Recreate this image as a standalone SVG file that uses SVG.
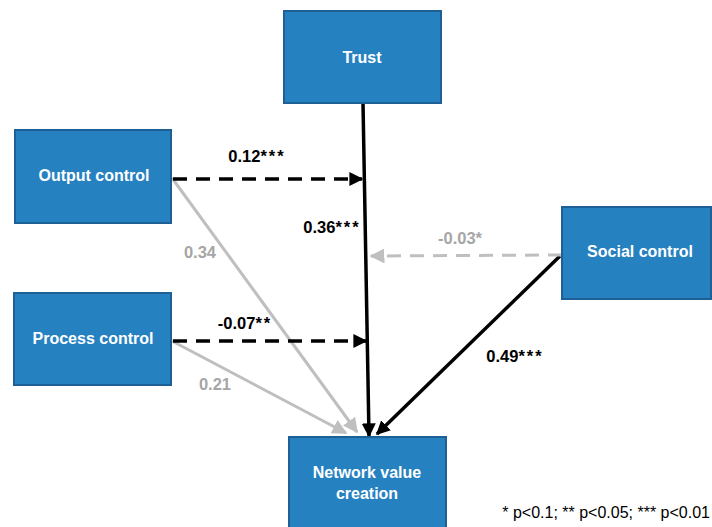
<svg xmlns="http://www.w3.org/2000/svg" width="712" height="527" viewBox="0 0 712 527">
<style>
.box{fill:#2681C1;stroke:#1E6096;stroke-width:2}
.nt{font-family:"Liberation Sans",Arial,sans-serif;font-weight:bold;font-size:16px;fill:#ffffff;text-anchor:middle}
.lb{font-family:"Liberation Sans",Arial,sans-serif;font-weight:bold;font-size:16.5px;text-anchor:middle}
.st{letter-spacing:2px}
.blk{fill:#000000}
.gry{fill:#A6A6A6}
.foot{font-family:"Liberation Sans",Arial,sans-serif;font-size:16px;fill:#000;text-anchor:end}
.cb{stroke:#000;stroke-width:3.5;fill:none}
.cg{stroke:#BFBFBF;stroke-width:3;fill:none}
.dash{stroke-dasharray:14,9}
</style>
<defs>
<marker id="ab" viewBox="0 0 10 10" refX="9" refY="5" markerWidth="4" markerHeight="4" orient="auto" markerUnits="strokeWidth"><path d="M0,0 L10,5 L0,10 z" fill="#000"/></marker>
<marker id="ag" viewBox="0 0 10 10" refX="9" refY="5" markerWidth="5" markerHeight="5" orient="auto" markerUnits="strokeWidth"><path d="M0,0 L10,5 L0,10 z" fill="#BFBFBF"/></marker>
</defs>
<rect width="712" height="527" fill="#ffffff"/>
<g id="connectors">
<line class="cg" x1="172" y1="178" x2="357" y2="432" marker-end="url(#ag)"/>
<line class="cg" x1="172" y1="341" x2="346" y2="433" marker-end="url(#ag)"/>
<line class="cb" x1="363" y1="103" x2="369" y2="436" marker-end="url(#ab)"/>
<line class="cb" x1="560" y1="256" x2="377" y2="434" marker-end="url(#ab)"/>
<line class="cb dash" x1="173" y1="179" x2="362" y2="179" marker-end="url(#ab)"/>
<line class="cb dash" x1="173" y1="341" x2="366" y2="341" marker-end="url(#ab)"/>
<line class="cg dash" x1="562" y1="255" x2="371" y2="256" marker-end="url(#ag)"/>
</g>
<g id="labels">
<text class="lb blk" x="257" y="162">0.12<tspan class="st">***</tspan></text>
<text class="lb blk" x="332" y="233">0.36<tspan class="st">***</tspan></text>
<text class="lb gry" x="460" y="244">-0.03*</text>
<text class="lb gry" x="200" y="258">0.34</text>
<text class="lb blk" x="245" y="329">-0.07<tspan class="st">**</tspan></text>
<text class="lb gry" x="215" y="390">0.21</text>
<text class="lb blk" x="515" y="362">0.49<tspan class="st">***</tspan></text>
</g>
<g id="trust"><rect class="box" x="284" y="11" width="157" height="92"/><text class="nt" x="362" y="63">Trust</text></g>
<g id="output-control"><rect class="box" x="15" y="130" width="156" height="93"/><text class="nt" x="94" y="181">Output control</text></g>
<g id="process-control"><rect class="box" x="14" y="293" width="157" height="92"/><text class="nt" x="93" y="344">Process control</text></g>
<g id="social-control"><rect class="box" x="562" y="207" width="149" height="92"/><text class="nt" x="640" y="257">Social control</text></g>
<g id="network-value-creation"><rect class="box" x="289" y="437" width="157" height="95"/><text class="nt" x="367" y="478">Network value</text><text class="nt" x="367" y="499">creation</text></g>
<text class="foot" x="710" y="518">* p&lt;0.1; ** p&lt;0.05; *** p&lt;0.01</text>
</svg>
